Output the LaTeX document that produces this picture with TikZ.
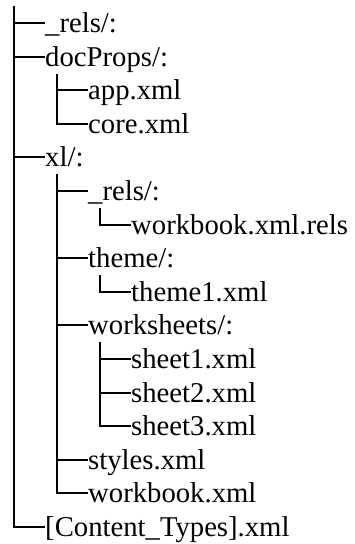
\documentclass[tikz,border=0pt]{standalone}
\usepackage{fontspec}
\setmainfont{Liberation Serif}
\usetikzlibrary{positioning}

\begin{document}
\begin{tikzpicture}[x=1pt, y=-1pt,
		entry/.style={anchor=west, inner sep=0pt, text height=21.5pt, text depth=2.5pt, font=\fontsize{28.7}{34}\selectfont},
		branch/.style={line width=2pt}]
				\useasboundingbox (0,0) rectangle (355,544);
				\coordinate (root) at (14,6);
				
				\node[entry] (rels) at (45,23) {\_rels/:};
				\node[entry] (docprops) at (45,56.6) {docProps/:};
				\node[entry] (app) at (88,90.2) {app.xml};
				\node[entry] (core) at (88,123.8) {core.xml};
				\node[entry] (xl) at (45,157.4) {xl/:};
				\node[entry] (xlrels) at (88,191) {\_rels/:};
				\node[entry] (wbrels) at (131,224.6) {workbook.xml.rels};
				\node[entry] (theme) at (88,258.2) {theme/:};
				\node[entry] (theme1) at (131,291.8) {theme1.xml};
				\node[entry] (sheets) at (88,325.4) {worksheets/:};
				\node[entry] (sheet1) at (131,359) {sheet1.xml};
				\node[entry] (sheet2) at (131,392.6) {sheet2.xml};
				\node[entry] (sheet3) at (131,426.2) {sheet3.xml};
				\node[entry] (styles) at (88,459.8) {styles.xml};
				\node[entry] (workbook) at (88,493.4) {workbook.xml};
				\node[entry] (ctypes) at (45,527) {[Content\_Types].xml};
				
				% stems below the folders
				\coordinate (docprops-s) at ([xshift=12pt, yshift=-17pt]docprops.west);
				\coordinate (xl-s) at ([xshift=12pt, yshift=-17pt]xl.west);
				\coordinate (xlrels-s) at ([xshift=12pt, yshift=-17pt]xlrels.west);
				\coordinate (theme-s) at ([xshift=12pt, yshift=-17pt]theme.west);
				\coordinate (sheets-s) at ([xshift=12pt, yshift=-17pt]sheets.west);
				
				\draw[branch] (root) |- (rels.west);
				\draw[branch] (root) |- (docprops.west);
				\draw[branch] (root) |- (xl.west);
				\draw[branch] (root) |- (ctypes.west);
				
				\draw[branch] (docprops-s) |- (app.west);
				\draw[branch] (docprops-s) |- (core.west);
				
				\draw[branch] (xl-s) |- (xlrels.west);
				\draw[branch] (xl-s) |- (theme.west);
				\draw[branch] (xl-s) |- (sheets.west);
				\draw[branch] (xl-s) |- (styles.west);
				\draw[branch] (xl-s) |- (workbook.west);
				
				\draw[branch] (xlrels-s) |- (wbrels.west);
				\draw[branch] (theme-s) |- (theme1.west);
				
				\draw[branch] (sheets-s) |- (sheet1.west);
				\draw[branch] (sheets-s) |- (sheet2.west);
				\draw[branch] (sheets-s) |- (sheet3.west);
			\end{tikzpicture}
\end{document}
